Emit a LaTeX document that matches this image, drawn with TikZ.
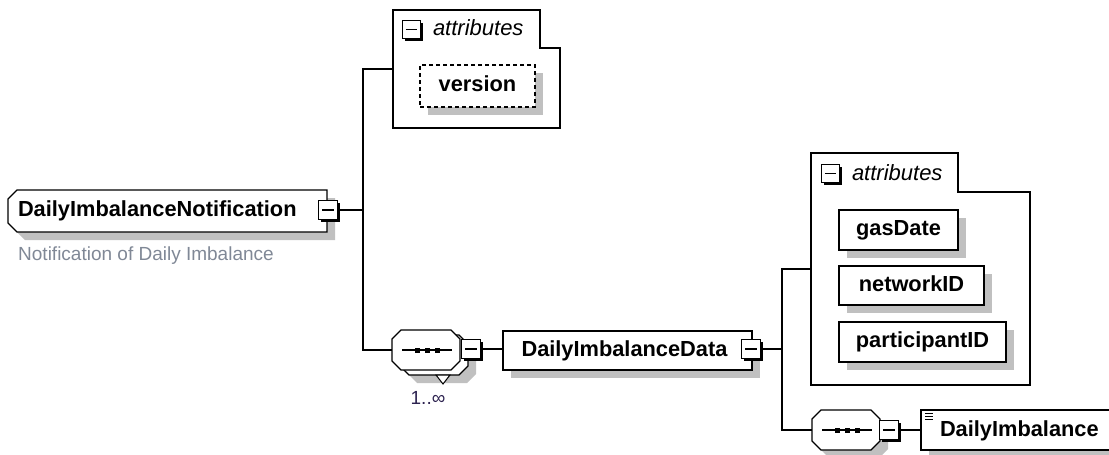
\documentclass[tikz,border=0pt]{standalone}
\usepackage{fontspec}
\setmainfont{Liberation Sans}
\usetikzlibrary{calc}
\definecolor{shadowgray}{RGB}{192,192,192}
\definecolor{desccol}{RGB}{128,136,150}
\definecolor{multcol}{RGB}{45,35,80}
\tikzset{
  ln/.style={line width=1.2pt},
  shd/.style={preaction={fill=shadowgray, transform canvas={xshift=8pt,yshift=-8pt}}},
  anc/.style={inner sep=0pt, outer sep=0pt, anchor=north west},
  bx/.style={draw, line width=1.2pt, fill=white, inner sep=0pt, outer sep=0pt, anchor=north west,
    font=\bfseries\fontsize{21.8}{24}\selectfont, text height=16pt, text depth=4.6pt},
  lbl/.style={inner sep=0pt, outer sep=0pt, font=\bfseries\fontsize{21.8}{24}\selectfont, text height=16pt, text depth=4.6pt},
  attrlbl/.style={inner sep=0pt, outer sep=0pt, anchor=west, font=\itshape\fontsize{22}{24}\selectfont, text height=16pt, text depth=4.6pt},
  minusbox/.style={draw, line width=1.4pt, fill=white, minimum size=18.5pt, inner sep=0pt, outer sep=0pt,
    path picture={\draw[line width=1.3pt] ([xshift=3.5pt]path picture bounding box.west) -- ([xshift=-3.5pt]path picture bounding box.east);}},
  lcham/.style 2 args={insert path={($(#1.north west)+(#2,0)$) -- (#1.north east) -- (#1.south east) -- ($(#1.south west)+(#2,0)$) -- ($(#1.south west)+(0,-#2)$) -- ($(#1.north west)+(0,#2)$) -- cycle}},
  ocham/.style 2 args={insert path={($(#1.north west)+(#2,0)$) -- ($(#1.north east)+(-#2,0)$) -- ($(#1.north east)+(0,#2)$) -- ($(#1.south east)+(0,-#2)$) -- ($(#1.south east)+(-#2,0)$) -- ($(#1.south west)+(#2,0)$) -- ($(#1.south west)+(0,-#2)$) -- ($(#1.north west)+(0,#2)$) -- cycle}},
}
\begin{document}
\begin{tikzpicture}[x=1pt,y=-1pt]
\useasboundingbox (0,0) rectangle (1109,455);

% ---------- root element ----------
\node[anc, minimum width=319pt, minimum height=42pt] (root) at (8,190) {};
\fill[shadowgray, transform canvas={xshift=8pt,yshift=-8pt}] [lcham={root}{9}];
\draw[ln, fill=white] [lcham={root}{9}];
\node[lbl, anchor=west] (roottxt) at (18,211) {DailyImbalanceNotification};
\node[minusbox] (rootminus) at (328,210) {};
\node[inner sep=0pt, anchor=base west, font=\fontsize{19}{22}\selectfont, text=desccol] (desc) at (18,260) {Notification of Daily Imbalance};

% ---------- attributes group 1 ----------
\node[anc, minimum width=167pt, minimum height=118pt] (attr1) at (393,10) {};
\draw[ln, fill=white] (attr1.north west) -- (540,10) -- (540,48) -- (560,48) -- (attr1.south east) -- (attr1.south west) -- cycle;
\node[minusbox] (attr1minus) at (411.5,29.5) {};
\node[attrlbl] (attr1txt) at (433,30) {attributes};
\node[bx, shd, dashed, dash pattern=on 4pt off 3pt, minimum width=115pt, minimum height=42pt] (version) at (420,65) {version};

% ---------- sequence 1 (1..inf) ----------
\node[anc, minimum width=68pt, minimum height=40pt] (comp1back) at (400,335) {};
\node[anc, minimum width=68pt, minimum height=40pt] (comp1) at (392,330) {};
\fill[shadowgray, transform canvas={xshift=8pt,yshift=-8pt}] [ocham={comp1back}{9}];
\draw[ln, fill=white] [ocham={comp1back}{9}];
\draw[line width=1pt, fill=white] (436,375) -- (450,375) -- (443,384) -- cycle;
\draw[ln, fill=white] [ocham={comp1}{9}];
\draw[ln] ($(comp1.west)+(10,0)$) -- ($(comp1.east)+(-8,0)$);
\foreach \dx in {-9,1,11} \fill ($(comp1.center)+(\dx-2.5,-2.5)$) rectangle +(5,5);
\node[minusbox] (comp1minus) at (471,349) {};
\node[inner sep=0pt, font=\fontsize{19}{22}\selectfont, text=multcol] (mult) at (428,398) {1..∞};

% ---------- DailyImbalanceData ----------
\node[bx, shd, minimum width=249pt, minimum height=39pt] (did) at (503,331) {DailyImbalanceData\hspace*{6pt}};
\node[minusbox] (didminus) at (751,349) {};

% ---------- attributes group 2 ----------
\node[anc, minimum width=219pt, minimum height=232pt] (attr2) at (811,153) {};
\draw[ln, fill=white] (attr2.north west) -- (958,153) -- (958,192) -- (1030,192) -- (attr2.south east) -- (attr2.south west) -- cycle;
\node[minusbox] (attr2minus) at (830.5,173.5) {};
\node[attrlbl] (attr2txt) at (852,175) {attributes};
\node[bx, shd, minimum width=119pt, minimum height=40pt] (gasdate) at (839,210) {gasDate};
\node[bx, shd, minimum width=145pt, minimum height=39pt] (networkid) at (839,266) {networkID};
\node[bx, shd, minimum width=167pt, minimum height=40pt] (participantid) at (839,322) {participantID};

% ---------- sequence 2 ----------
\node[anc, minimum width=68pt, minimum height=40pt] (comp2) at (812,410) {};
\fill[shadowgray, transform canvas={xshift=8pt,yshift=-8pt}] [ocham={comp2}{9}];
\draw[ln, fill=white] [ocham={comp2}{9}];
\draw[ln] ($(comp2.west)+(10,0)$) -- ($(comp2.east)+(-8,0)$);
\foreach \dx in {-9,1,11} \fill ($(comp2.center)+(\dx-2.5,-2.5)$) rectangle +(5,5);
\node[minusbox] (comp2minus) at (889,430) {};

% ---------- DailyImbalance ----------
\node[bx, shd, minimum width=220pt, minimum height=40pt] (di) at (921,410) {};
\node[lbl, anchor=west] (ditxt) at (940,431) {DailyImbalance};
\foreach \yy in {413.5,416.5,419.5} \draw[line width=1pt] (925,\yy) -- (933,\yy);

% ---------- thick right/bottom edges of the minus boxes ----------
\foreach \m in {rootminus,attr1minus,comp1minus,didminus,attr2minus,comp2minus} {
  \fill ($(\m.north east)+(-0.7,2.5)$) rectangle ($(\m.south east)+(2.5,2.5)$);
  \fill ($(\m.south west)+(2.5,-0.7)$) rectangle ($(\m.south east)+(2.5,2.5)$);
}

% ---------- connectors ----------
\coordinate (j1) at (363,210);
\coordinate (j2) at (782,350);
\draw[ln] (rootminus.east) ++(2.5,0) -- (j1);
\draw[ln] (attr1.west) -| (j1) |- (comp1.west);
\draw[ln] ($(comp1minus.east)+(2.5,0)$) -- (comp1minus.east -| did.west);
\draw[ln] ($(didminus.east)+(2.5,0)$) -- (didminus.east -| j2);
\draw[ln] (attr2.west) -| (j2) |- (comp2.west);
\draw[ln] ($(comp2minus.east)+(2.5,0)$) -- (comp2minus.east -| di.west);
\end{tikzpicture}
\end{document}
